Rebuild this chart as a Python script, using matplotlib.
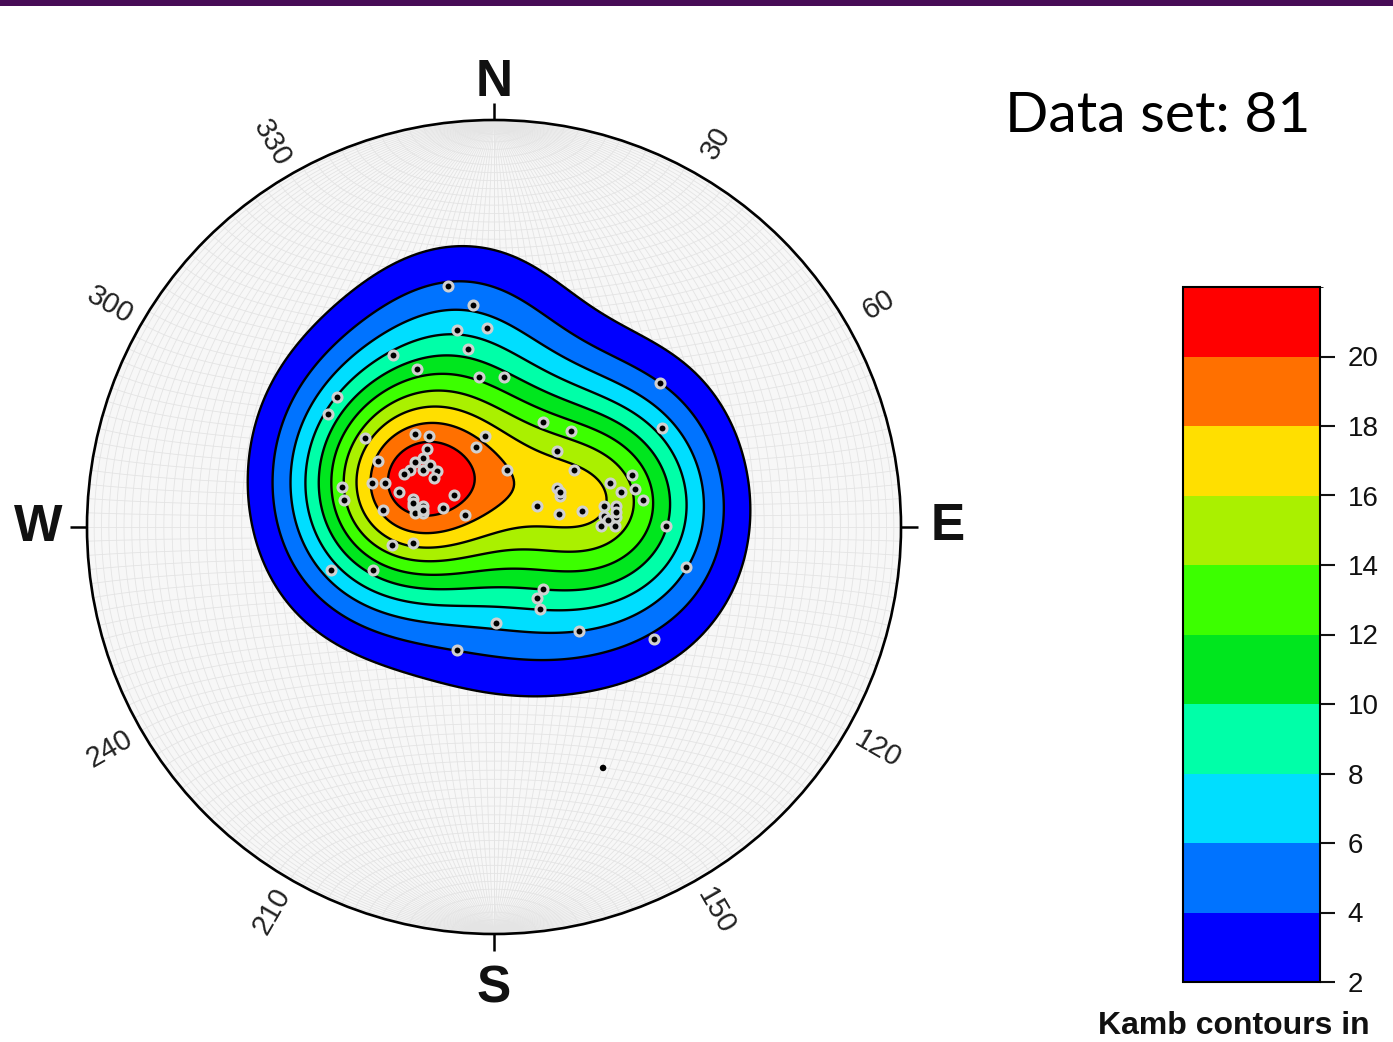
import numpy as np
import matplotlib
matplotlib.use("Agg")
import matplotlib.pyplot as plt
from matplotlib.colors import ListedColormap, BoundaryNorm
from matplotlib.patches import Circle, Rectangle
from matplotlib.collections import LineCollection
import matplotlib.colorbar as mcb

# ---------------- data (equal-area net coordinates, unit radius; x = east, y = north) -------------
pole_x = [-0.113, -0.052, -0.091, -0.017, -0.248, -0.064, -0.189, -0.037, 0.025, -0.386,
          -0.408, 0.408, 0.413, 0.120, 0.189, -0.317, -0.194, -0.160, -0.022, -0.044,
          -0.165, -0.174, -0.194, -0.174, -0.140, -0.206, -0.221, -0.147, -0.285, 0.032,
          0.155, 0.197, -0.373, -0.300, -0.268, -0.233, -0.098, -0.369, -0.199, -0.199,
          -0.174, -0.125, -0.194, -0.174, -0.273, -0.071, -0.251, -0.199, 0.339, 0.285,
          0.346, 0.312, 0.155, 0.162, 0.366, 0.106, 0.270, 0.300, 0.160, 0.216,
          0.300, 0.263, 0.297, 0.423, -0.400, -0.297, 0.472, 0.120, 0.106, 0.113,
          0.005, 0.209, 0.393, -0.091, -0.199, -0.174, -0.157, 0.300, 0.162, 0.270,
          0.280]
pole_y = [0.592, 0.545, 0.484, 0.489, 0.423, 0.437, 0.388, 0.369, 0.369, 0.319,
          0.278, 0.354, 0.243, 0.258, 0.236, 0.219, 0.229, 0.224, 0.224, 0.197,
          0.192, 0.170, 0.160, 0.140, 0.138, 0.140, 0.130, 0.120, 0.162, 0.140,
          0.187, 0.140, 0.098, 0.108, 0.108, 0.086, 0.079, 0.066, 0.069, 0.052,
          0.052, 0.047, 0.034, 0.034, 0.042, 0.029, -0.044, -0.039, 0.128, 0.108,
          0.093, 0.086, 0.096, 0.076, 0.066, 0.052, 0.052, 0.052, 0.032, 0.039,
          0.025, 0.002, 0.002, 0.002, -0.106, -0.106, -0.098, -0.152, -0.174, -0.201,
          -0.236, -0.256, -0.275, -0.302, 0.059, 0.042, 0.152, 0.037, 0.086, 0.027,
          0.017]
mean_x = [0.268]
mean_y = [-0.592]

levels = [2, 4, 6, 8, 10, 12, 14, 16, 18, 20, 22]
band_colors = ["#0000ff", "#0073ff", "#00deff", "#00ffa8", "#00e61e",
               "#3cff00", "#aaf000", "#ffdf00", "#ff7000", "#ff0000"]
cb_ticks = [2, 4, 6, 8, 10, 12, 14, 16, 18, 20]
cardinals = [("N", 0), ("E", 90), ("S", 180), ("W", 270)]
ring_labels = [30, 60, 120, 150, 210, 240, 300, 330]
title_text = "Data set: 81"
cb_label = "Kamb contours in"

# ---------------- figure ----------------
W, H = 1393, 1042
fig = plt.figure(figsize=(W / 100, H / 100), dpi=100)
fig.patch.set_facecolor("white")
fig.patches.append(Rectangle((0, 1 - 6 / H), 1, 6 / H, transform=fig.transFigure,
                             facecolor="#470c56", edgecolor="none"))

cx, cy, R = 494, 527, 407
lim = 1.25
ax = fig.add_axes([(cx - lim * R) / W, (H - cy - lim * R) / H, 2 * lim * R / W, 2 * lim * R / H])
ax.set_xlim(-lim, lim)
ax.set_ylim(-lim, lim)
ax.axis("off")


def project(v):
    v = np.array(v, dtype=float)
    flip = v[..., 2] > 0
    v[flip] *= -1
    x, y, z = v[..., 0], v[..., 1], v[..., 2]
    theta = np.arccos(np.clip(-z, -1, 1))
    r = np.sqrt(2) * np.sin(theta / 2)
    h = np.hypot(x, y)
    h = np.where(h == 0, 1, h)
    return r * x / h, r * y / h


def unproject(X, Y):
    r = np.clip(np.hypot(X, Y), 0, 1)
    theta = 2 * np.arcsin(r / np.sqrt(2))
    rr = np.where(r == 0, 1, np.hypot(X, Y))
    ux, uy = X / rr, Y / rr
    return np.stack([np.sin(theta) * ux, np.sin(theta) * uy, -np.cos(theta)], axis=-1)


# background
ax.add_patch(Circle((0, 0), 1, facecolor="#f7f7f7", edgecolor="none", zorder=0))

# Schmidt net grid (2 degree)
segs = []
lam = np.linspace(0, np.pi, 181)
for d in range(0, 91, 2):
    dr = np.radians(d)
    for s in (1, -1):
        v = np.stack([s * np.sin(lam) * np.cos(dr), np.cos(lam), -np.sin(lam) * np.sin(dr)], -1)
        X, Y = project(v)
        segs.append(np.column_stack([X, Y]))
phi = np.linspace(0, np.pi, 181)
for a in range(2, 179, 2):
    ar = np.radians(a)
    v = np.stack([np.sin(ar) * np.cos(phi), np.full_like(phi, np.cos(ar)), -np.sin(ar) * np.sin(phi)], -1)
    X, Y = project(v)
    segs.append(np.column_stack([X, Y]))
ax.add_collection(LineCollection(segs, colors="#e4e4e4", linewidths=0.6, zorder=1))

# Kamb (exponential) density
px = np.array(pole_x)
py = np.array(pole_y)
P = unproject(px, py)
n = len(px)
g = np.linspace(-1.01, 1.01, 320)
GX, GY = np.meshgrid(g, g)
nodes = unproject(GX, GY)
cosd = np.abs(nodes @ P.T)
sigma = 3.3
f = 2 * (1 + n / sigma ** 2)
count = np.exp(f * (cosd - 1))
units = np.sqrt(n * (f / 2 - 1) / f ** 2)
dens = (count.sum(axis=-1) - 0.5) / units

clip = Circle((0, 0), 1, transform=ax.transData)
fill_levels = levels[:-1] + [max(1000, dens.max() + 1)]
cf = ax.contourf(GX, GY, dens, levels=fill_levels, colors=band_colors, zorder=2)
cf.set_clip_path(clip)
cl = ax.contour(GX, GY, dens, levels=levels[:-1], colors="black", linewidths=1.7, zorder=3)
cl.set_clip_path(clip)

# poles
ax.scatter(px, py, s=42, c="black", edgecolors="#d0d0d0", linewidths=2.2, zorder=5)
ax.scatter(mean_x, mean_y, s=22, c="black", edgecolors="none", zorder=5)

# primitive circle
ax.add_patch(Circle((0, 0), 1, fill=False, edgecolor="black", linewidth=1.9, zorder=6))

# cardinal ticks and labels
for lab, az in cardinals:
    a = np.radians(az)
    ax.plot([np.sin(a), 1.042 * np.sin(a)], [np.cos(a), 1.042 * np.cos(a)],
            color="black", lw=1.8, zorder=6, solid_capstyle="butt")
lab_r = {"N": 1.093, "E": 1.115, "S": 1.135, "W": 1.12}
for lab, az in cardinals:
    a = np.radians(az)
    ax.text(lab_r[lab] * np.sin(a), lab_r[lab] * np.cos(a), lab, ha="center", va="center",
            fontsize=37, fontweight="bold", family="Liberation Sans", color="#111111",
            clip_on=False)

for az in ring_labels:
    a = np.radians(az)
    rot = 90 - az if az < 180 else 270 - az
    ax.text(1.09 * np.sin(a), 1.09 * np.cos(a), str(az), ha="center", va="center",
            rotation=rot, rotation_mode="anchor", fontsize=21, family="Liberation Sans",
            color="#222222", clip_on=False)

# title text
fig.text(1005 / W, 1 - 132 / H, title_text, fontsize=41, family="Lato", color="black",
         ha="left", va="baseline")

# colorbar
cax = fig.add_axes([1183 / W, (H - 982) / H, 137 / W, 695 / H])
cmap = ListedColormap(band_colors)
norm = BoundaryNorm(levels, cmap.N)
cb = mcb.ColorbarBase(cax, cmap=cmap, norm=norm, boundaries=levels, ticks=cb_ticks,
                      orientation="vertical")
cb.outline.set_linewidth(1.5)
cax.tick_params(length=11, width=1.5, labelsize=20, pad=9, colors="#111111")
for t in cax.get_yticklabels():
    t.set_family("Liberation Sans")

fig.text(1098 / W, 1 - 1034 / H, cb_label, fontsize=23, fontweight="bold",
         family="Liberation Sans", color="#111111", ha="left", va="baseline")

fig.savefig("out.png", dpi=100)
